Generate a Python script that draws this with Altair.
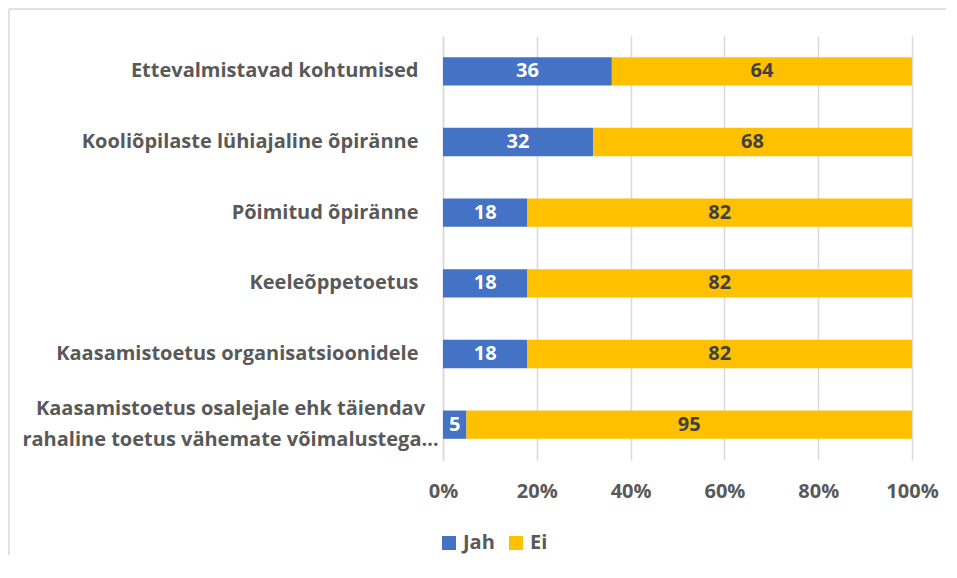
import altair as alt
import pandas as pd

categories = [
    "Ettevalmistavad kohtumised",
    "Kooliõpilaste lühiajaline õpiränne",
    "Põimitud õpiränne",
    "Keeleõppetoetus",
    "Kaasamistoetus organisatsioonidele",
    "Kaasamistoetus osalejale ehk täiendav|rahaline toetus vähemate võimalustega…",
]
jah = [36, 32, 18, 18, 18, 5]
ei = [64, 68, 82, 82, 82, 95]
series = ["Jah", "Ei"]
colors = ["#4472C4", "#FFC000"]
ticks = [0, 20, 40, 60, 80, 100]

rows = []
for c, j, e in zip(categories, jah, ei):
    rows.append({"category": c, "series": "Jah", "value": j, "ord": 0})
    rows.append({"category": c, "series": "Ei", "value": e, "ord": 1})
df = pd.DataFrame(rows)

FONT = "Open Sans"
FS = 20
GRAY = "#595959"
MULTI = "indexof(datum.label, '|') >= 0"

base = alt.Chart(df).transform_stack(
    stack="value", groupby=["category"], as_=["x0", "x1"],
    sort=[alt.SortField("ord", order="ascending")]
).transform_calculate(mid="(datum.x0 + datum.x1) / 2")

y_enc = alt.Y(
    "category:N", sort=categories, title=None,
    scale=alt.Scale(paddingInner=0.6, paddingOuter=0.3),
    axis=alt.Axis(
        labelExpr="split(datum.label, '|')",
        labelFont=FONT, labelFontSize=FS, labelFontWeight="bold", labelColor=GRAY,
        ticks=False, domainColor="#d9d9d9", domainWidth=1.5,
        labelLineHeight=31, labelLimit=600,
        labelPadding={"condition": {"test": MULTI, "value": 213}, "value": 25},
        labelAlign={"condition": {"test": MULTI, "value": "center"}, "value": "right"},
        labelOffset={"condition": {"test": MULTI, "value": -15.5}, "value": 0},
    ),
)

bars = base.mark_bar().encode(
    x=alt.X("x0:Q", title=None,
            scale=alt.Scale(domain=[0, 100], nice=False),
            axis=alt.Axis(values=ticks, labelExpr="datum.value + '%'",
                          labelFont=FONT, labelFontSize=FS, labelFontWeight="bold",
                          labelColor=GRAY, labelPadding=21, ticks=False, domain=False,
                          labelFlush=False, labelOverlap=False,
                          grid=True, gridColor="#d9d9d9", gridWidth=1.5)),
    x2="x1:Q",
    y=y_enc,
    color=alt.Color("series:N", sort=series,
                    scale=alt.Scale(domain=series, range=colors),
                    legend=alt.Legend(title=None, orient="none", direction="horizontal",
                                      legendX=-4, legendY=497,
                                      symbolType="square", symbolSize=196,
                                      symbolStrokeWidth=0,
                                      labelFont=FONT, labelFontSize=FS,
                                      labelFontWeight="bold", labelColor=GRAY,
                                      labelOffset=4, columnPadding=11)),
    order=alt.Order("ord:Q"),
)

text = base.mark_text(font=FONT, fontSize=FS, fontWeight="bold").encode(
    x=alt.X("mid:Q"),
    y=alt.Y("category:N", sort=categories),
    text=alt.Text("value:Q"),
    color=alt.condition("datum.series == 'Jah'", alt.value("white"), alt.value("#404040")),
)

frame_data = alt.Data(values=[{"a": 1}])
left_line = alt.Chart(frame_data).mark_rule(color="#d9d9d9", strokeWidth=1.5).encode(
    x=alt.value(-434), y=alt.value(-27), y2=alt.value(600))
top_line = alt.Chart(frame_data).mark_rule(color="#d9d9d9", strokeWidth=1.5).encode(
    y=alt.value(-27), x=alt.value(-434), x2=alt.value(600))

chart = alt.layer(left_line, top_line, bars, text).properties(
    width=469, height=424,
    autosize=alt.AutoSizeParams(type="none"),
    padding={"left": 435, "top": 28, "right": 34, "bottom": 95},
).configure_view(stroke=None)

chart.save("out.html", embed_options={"renderer": "svg", "actions": False})
